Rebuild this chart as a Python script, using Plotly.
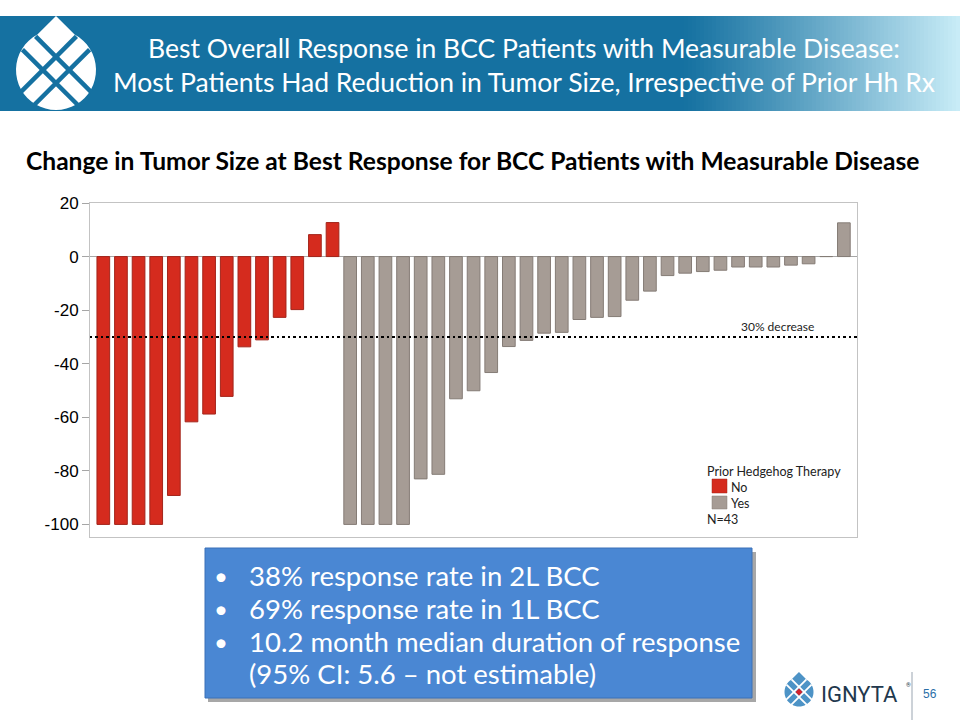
import math
import plotly.graph_objects as go

# ---------------- data ----------------
no_prior_values = [-100, -100, -100, -100, -89.2, -61.7, -58.8, -52.2, -33.7, -31.1, -22.7, -19.8, 8.2, 12.7]
yes_prior_values = [-100, -100, -100, -100, -83.0, -81.3, -53.1, -50.1, -43.3, -33.6, -31.3, -28.6, -28.3,
                    -23.5, -22.7, -22.4, -16.3, -12.9, -7.1, -6.2, -5.6, -5.1, -3.9, -3.9, -3.9, -3.2, -2.7,
                    0, 12.6]
patients_no = list(range(1, len(no_prior_values) + 1))
patients_yes = list(range(len(no_prior_values) + 1, len(no_prior_values) + len(yes_prior_values) + 1))
y_ticks = [-100, -80, -60, -40, -20, 0, 20]
y_tick_labels = ["-100", "-80", "-60", "-40", "-20", "0", "20"]
threshold = -30
threshold_label = "30% decrease"
legend_title = "Prior Hedgehog Therapy"
legend_labels = ["No", "Yes"]
n_label = "N=43"
title_lines = ["Best Overall Response in BCC Patients with Measurable Disease:",
               "Most Patients Had Reduction in Tumor Size, Irrespective of Prior Hh Rx"]
subtitle = "Change in Tumor Size at Best Response for BCC Patients with Measurable Disease"
bullets = ["38% response rate in 2L BCC",
           "69% response rate in 1L BCC",
           "10.2 month median duration of response",
           "(95% CI: 5.6 \u2013 not estimable)"]
page_number = "56"

RED = "#d52b1e"
RED_EDGE = "#a3251b"
GRAY = "#a69c95"
GRAY_EDGE = "#857c76"
BAND = (21, 113, 161)
BAND_LIGHT = (200, 236, 247)

# ---------------- layout geometry (pixels) ----------------
W, H = 960, 720
ML, MR, MT, MB = 90, 103, 203, 183
PW, PH = W - ML - MR, H - MT - MB


def px(x):
    return (x - ML) / PW


def py(y):
    return (H - MB - y) / PH


fig = go.Figure()
fig.add_trace(go.Bar(x=patients_no, y=no_prior_values, name=legend_labels[0], width=0.72,
                     marker=dict(color=RED, line=dict(color=RED_EDGE, width=1)), showlegend=False))
fig.add_trace(go.Bar(x=patients_yes, y=yes_prior_values, name=legend_labels[1], width=0.72,
                     marker=dict(color=GRAY, line=dict(color=GRAY_EDGE, width=1)), showlegend=False))

shapes = []
annotations = []

# header band with gradient on the right
shapes.append(dict(type="rect", xref="paper", yref="paper", x0=px(0), x1=px(682), y0=py(111), y1=py(16),
                   fillcolor="rgb(%d,%d,%d)" % BAND, line=dict(width=0), layer="below"))
steps = 70
x_start, x_end = 680, 960
for i in range(steps):
    t = i / (steps - 1)
    c = tuple(int(BAND[k] + (BAND_LIGHT[k] - BAND[k]) * (t ** 1.1)) for k in range(3))
    xa = x_start + (x_end - x_start) * i / steps
    xb = x_start + (x_end - x_start) * (i + 1) / steps + 0.6
    shapes.append(dict(type="rect", xref="paper", yref="paper", x0=px(xa), x1=px(min(xb, 960)),
                       y0=py(111), y1=py(16), fillcolor="rgb(%d,%d,%d)" % c, line=dict(width=0),
                       layer="below"))


def drop_path(cx, cy, half, r):
    a = 0.5 * (half - math.sqrt(max(half * half - 2 * (half * half - r * r), 0)))
    pts = [(cx, cy - half), (cx - a, cy - half + a)]
    ang0 = math.atan2(-half + a, -a)
    ang1 = math.atan2(-half + a, a)
    start = ang0 if ang0 > 0 else ang0 + 2 * math.pi
    end = ang1 if ang1 < start else ang1 - 2 * math.pi
    n = 40
    for i in range(n + 1):
        ang = start + (end - start) * i / n
        pts.append((cx + r * math.cos(ang), cy + r * math.sin(ang)))
    pts.append((cx + a, cy - half + a))
    return "M " + " L ".join("%.5f,%.5f" % (px(x), py(y)) for x, y in pts) + " Z"


def lattice_lines(cx, cy, half, r, off, color, width, ext=1.0):
    out = []
    c = off * math.sqrt(2)
    for s in (-1, 1):
        cc = s * c
        p_up = half / math.sqrt(2)
        p_dn = -math.sqrt(max(r * r * ext - cc * cc / 2, 0))
        x0 = cx + cc / 2 + p_dn / math.sqrt(2); y0 = cy + cc / 2 - p_dn / math.sqrt(2)
        x1 = cx + cc / 2 + p_up / math.sqrt(2); y1 = cy + cc / 2 - p_up / math.sqrt(2)
        out.append(dict(type="line", xref="paper", yref="paper", x0=px(x0), y0=py(y0), x1=px(x1), y1=py(y1),
                        line=dict(color=color, width=width)))
        p_up = -half / math.sqrt(2)
        p_dn = math.sqrt(max(r * r * ext - cc * cc / 2, 0))
        x0 = cx + cc / 2 + p_up / math.sqrt(2); y0 = cy - cc / 2 + p_up / math.sqrt(2)
        x1 = cx + cc / 2 + p_dn / math.sqrt(2); y1 = cy - cc / 2 + p_dn / math.sqrt(2)
        out.append(dict(type="line", xref="paper", yref="paper", x0=px(x0), y0=py(y0), x1=px(x1), y1=py(y1),
                        line=dict(color=color, width=width)))
    return out


# header logo
shapes.append(dict(type="path", xref="paper", yref="paper", path=drop_path(56, 70, 54, 40),
                   fillcolor="white", line=dict(width=0)))
shapes += lattice_lines(56, 70, 54, 40, 9.3, "rgb(%d,%d,%d)" % BAND, 4.5, ext=1.1)

# footer logo
shapes.append(dict(type="path", xref="paper", yref="paper", path=drop_path(799, 692, 20, 14.5),
                   fillcolor="#4d93c6", line=dict(width=0)))
shapes += lattice_lines(799, 692, 20, 14.5, 3.6, "white", 1.8, ext=1.2)
shapes.append(dict(type="path", xref="paper", yref="paper",
                   path="M %f,%f L %f,%f L %f,%f L %f,%f Z" % (px(799), py(688.5), px(802.5), py(692),
                                                            px(799), py(695.5), px(795.5), py(692)),
                   fillcolor="#d3222a", line=dict(width=0)))
shapes.append(dict(type="line", xref="paper", yref="paper", x0=px(912), x1=px(912), y0=py(672), y1=py(720),
                   line=dict(color="#9aa5b1", width=1)))

# threshold line
shapes.append(dict(type="line", xref="paper", yref="y", x0=0, x1=1, y0=threshold, y1=threshold,
                   line=dict(color="black", width=2, dash="2px,3px,3px,3px")))

# legend squares
shapes.append(dict(type="rect", xref="paper", yref="paper", x0=px(712), x1=px(727), y0=py(493), y1=py(479),
                   fillcolor=RED, line=dict(color=RED_EDGE, width=0.5)))
shapes.append(dict(type="rect", xref="paper", yref="paper", x0=px(712), x1=px(727), y0=py(509), y1=py(496),
                   fillcolor=GRAY, line=dict(color=GRAY_EDGE, width=0.5)))

# bullet box with shadow
shapes.append(dict(type="rect", xref="paper", yref="paper", x0=px(208), x1=px(756), y0=py(702), y1=py(552),
                   fillcolor="rgba(60,60,60,0.45)", line=dict(width=0)))
shapes.append(dict(type="rect", xref="paper", yref="paper", x0=px(205), x1=px(752), y0=py(698), y1=py(548),
                   fillcolor="#4a87d3", line=dict(color="#3a70b8", width=1)))

# texts
TF = "Lato, 'Open Sans', sans-serif"
annotations.append(dict(text=title_lines[0], x=px(524), y=py(48), xref="paper", yref="paper",
                        showarrow=False, xanchor="center", yanchor="middle",
                        font=dict(family=TF, size=26.5, color="white")))
annotations.append(dict(text=title_lines[1], x=px(524), y=py(82), xref="paper", yref="paper",
                        showarrow=False, xanchor="center", yanchor="middle",
                        font=dict(family=TF, size=26.5, color="white")))
annotations.append(dict(text="<b>" + subtitle + "</b>", x=px(472), y=py(160), xref="paper", yref="paper",
                        showarrow=False, xanchor="center", yanchor="middle",
                        font=dict(family=TF, size=24.6, color="black")))
annotations.append(dict(text=threshold_label, x=px(777), y=py(326), xref="paper", yref="paper",
                        showarrow=False, xanchor="center", yanchor="middle",
                        font=dict(family=TF, size=12, color="#222222")))
annotations.append(dict(text=legend_title, x=px(705), y=py(471), xref="paper", yref="paper",
                        showarrow=False, xanchor="left", yanchor="middle",
                        font=dict(family=TF, size=12.5, color="#222222")))
annotations.append(dict(text=legend_labels[0], x=px(729), y=py(487), xref="paper", yref="paper",
                        showarrow=False, xanchor="left", yanchor="middle",
                        font=dict(family=TF, size=12.5, color="#222222")))
annotations.append(dict(text=legend_labels[1], x=px(729), y=py(503), xref="paper", yref="paper",
                        showarrow=False, xanchor="left", yanchor="middle",
                        font=dict(family=TF, size=12.5, color="#222222")))
annotations.append(dict(text=n_label, x=px(705), y=py(519), xref="paper", yref="paper",
                        showarrow=False, xanchor="left", yanchor="middle",
                        font=dict(family=TF, size=12.5, color="#222222")))
bullet_y = [575, 608, 641, 673]
for i, (b, yy) in enumerate(zip(bullets, bullet_y)):
    if i < 3:
        annotations.append(dict(text="\u2022", x=px(221), y=py(yy), xref="paper", yref="paper",
                                showarrow=False, xanchor="center", yanchor="middle",
                                font=dict(family=TF, size=24, color="white")))
    annotations.append(dict(text=b, x=px(247), y=py(yy), xref="paper", yref="paper",
                            showarrow=False, xanchor="left", yanchor="middle",
                            font=dict(family=TF, size=27.5, color="white")))
annotations.append(dict(text="IGNYTA", x=px(819), y=py(694), xref="paper", yref="paper",
                        showarrow=False, xanchor="left", yanchor="middle",
                        font=dict(family="Roboto, sans-serif", size=22, color="#22384d")))
annotations.append(dict(text="\u00ae", x=px(904), y=py(684), xref="paper", yref="paper",
                        showarrow=False, xanchor="left", yanchor="middle",
                        font=dict(family="Roboto, sans-serif", size=6, color="#22384d")))
annotations.append(dict(text=page_number, x=px(930), y=py(694), xref="paper", yref="paper",
                        showarrow=False, xanchor="center", yanchor="middle",
                        font=dict(family="Liberation Sans, Arial, sans-serif", size=12, color="#2b6fa8")))

fig.update_layout(
    width=W, height=H,
    margin=dict(l=ML, r=MR, t=MT, b=MB, pad=0),
    paper_bgcolor="white", plot_bgcolor="white",
    shapes=shapes, annotations=annotations,
    showlegend=False, barmode="overlay",
    xaxis=dict(range=[0.245, 43.745], showticklabels=False, ticks="", showgrid=False, zeroline=False,
               showline=True, mirror=True, linecolor="#c3c3c3", linewidth=1, fixedrange=True),
    yaxis=dict(range=[-104.7, 20], tickvals=y_ticks, ticktext=y_tick_labels, ticks="outside", ticklen=7,
               tickcolor="#a6a6a6", showgrid=False, zeroline=True, zerolinecolor="#a6a6a6",
               zerolinewidth=1, showline=True, mirror=True, linecolor="#c3c3c3", linewidth=1,
               tickfont=dict(family="Liberation Sans, Arial, sans-serif", size=17, color="black"),
               fixedrange=True),
)

fig.write_html("out.html", config={"displayModeBar": False},
               post_script="document.body.style.margin='0';document.body.style.padding='0';")
